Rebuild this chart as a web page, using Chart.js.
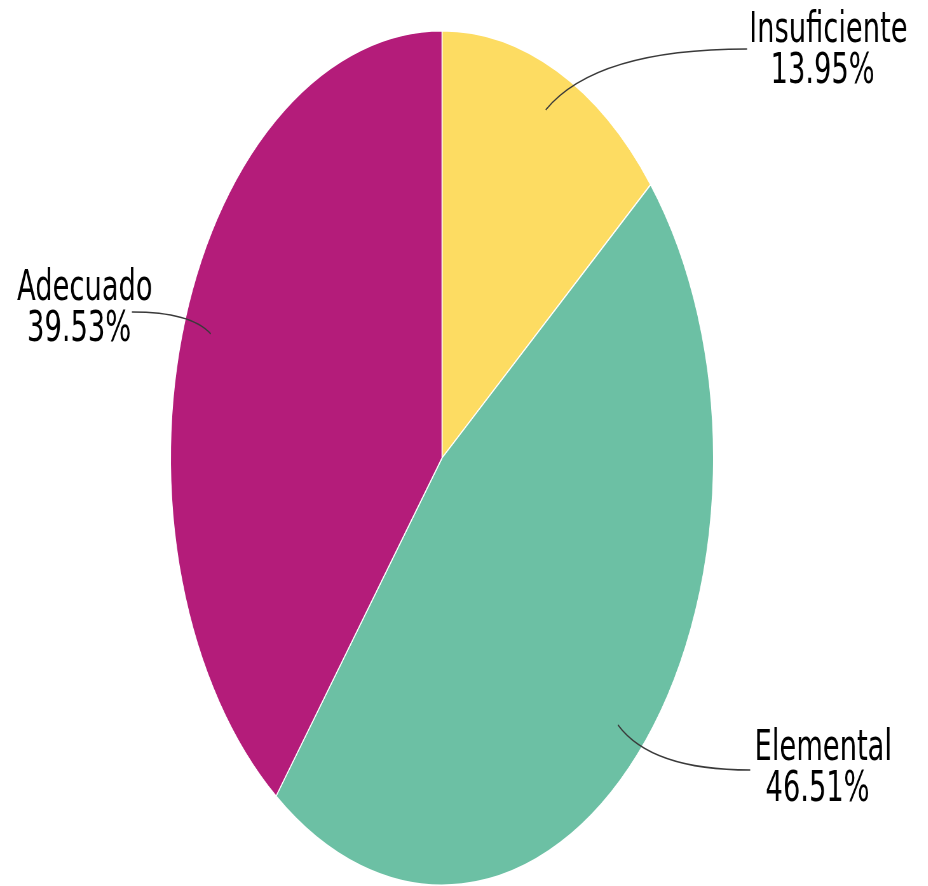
<!DOCTYPE html>
<html>
<head>
<meta charset="utf-8">
<script src="https://cdn.jsdelivr.net/npm/chart.js@4/dist/chart.umd.min.js"></script>
<style>
    html, body { margin: 0; padding: 0; background: #fff; overflow: hidden; }
    /* the reference is a squashed pie, so the whole chart is drawn wide and then pressed */
    #wrap {
        position: absolute; left: 0; top: 0;
        width: 1460px; height: 886px;
        transform: scaleX(0.6355);
        transform-origin: 0 0;
    }
</style>
</head>
<body>
<div id="wrap"><canvas id="pieChart"></canvas></div>
<script>
const categories = ['Insuficiente', 'Elemental', 'Adecuado'];
const percents = [13.95, 46.51, 39.53];
const sliceColors = ['#FDDC62', '#6CC0A4', '#B41C7A'];

// vị trí nhãn (offset từ tâm, px trên canvas chưa nén)
const labelLayout = [
    { tx: 608, ty: -416, ex: 480, ey: -409 },
    { tx: 600, ty: 302, ex: 485, ey: 312 },
    { tx: -562, ty: -158, ex: -488, ey: -146 }
];

const leaderLabels = {
    id: 'leaderLabels',
    afterDatasetsDraw(chart) {
        const ctx = chart.ctx;
        const meta = chart.getDatasetMeta(0);
        ctx.save();
        meta.data.forEach((arc, i) => {
            const mid = (arc.startAngle + arc.endAngle) / 2;
            const r = arc.outerRadius * 0.9;
            const sx = arc.x + Math.cos(mid) * r;
            const sy = arc.y + Math.sin(mid) * r;
            const lay = labelLayout[i];
            const ex = arc.x + lay.ex;
            const ey = arc.y + lay.ey;

            // đường dẫn cong
            ctx.beginPath();
            ctx.moveTo(sx, sy);
            ctx.quadraticCurveTo(sx + (ex - sx) * 0.25, ey, ex, ey);
            ctx.strokeStyle = '#3a3a3a';
            ctx.lineWidth = 1.6;
            ctx.stroke();

            // chữ
            ctx.fillStyle = '#000';
            ctx.font = '43px "DejaVu Sans"';
            ctx.textAlign = 'center';
            ctx.textBaseline = 'alphabetic';
            const x = arc.x + lay.tx;
            const y = arc.y + lay.ty;
            ctx.fillText(categories[i], x, y);
            ctx.fillText(percents[i].toFixed(2) + '%', x - 9, y + 41);
        });
        ctx.restore();
    }
};

const ctx = document.getElementById('pieChart').getContext('2d');
const pieChart = new Chart(ctx, {
    type: 'pie',
    data: {
        labels: categories,
        datasets: [{
            data: percents,
            backgroundColor: sliceColors,
            borderColor: '#ffffff',
            borderWidth: 1.5
        }]
    },
    options: {
        responsive: true,
        maintainAspectRatio: false,
        animation: false,
        layout: {
            padding: { top: 30, bottom: 0, left: 0, right: 69 }
        },
        plugins: {
            legend: { display: false },
            tooltip: { enabled: false }
        }
    },
    plugins: [leaderLabels]
});
</script>
</body>
</html>
